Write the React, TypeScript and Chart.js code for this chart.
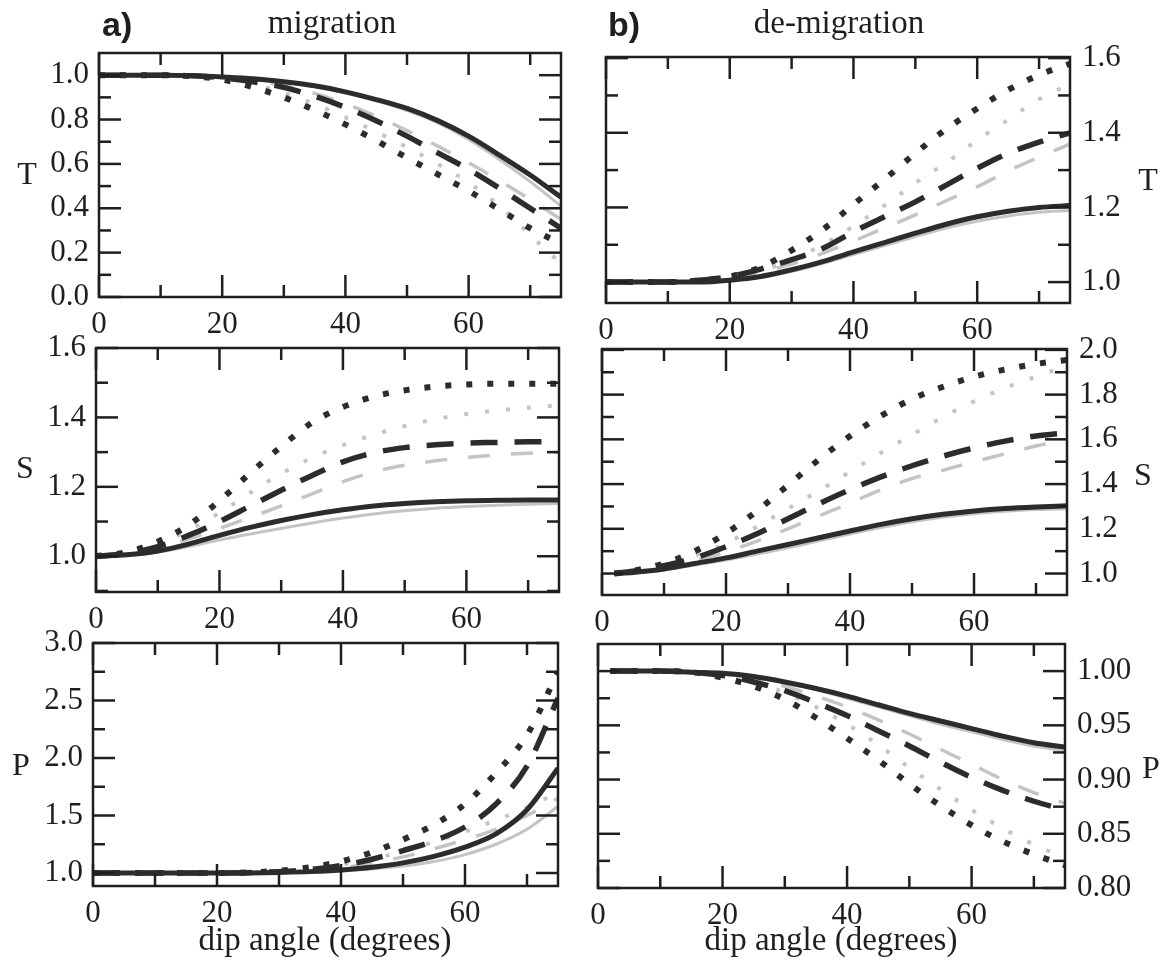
import React, { useEffect, useRef } from "react";
import { Chart, registerables } from "chart.js";

Chart.register(...registerables);

const PAGE_W = 1170;
const PAGE_H = 971;

// ---- dip angles (degrees) ----
const DIP_FULL = [0, 5, 10, 15, 20, 25, 30, 35, 40, 45, 50, 55, 60, 65, 70, 75];
const DIP_FROM2 = [2, 5, 10, 15, 20, 25, 30, 35, 40, 45, 50, 55, 60, 65, 70, 75];

// ---- x axis ticks (shared) ----
const X_MAJOR = [0, 20, 40, 60];
const X_LABELS = ["0", "20", "40", "60"];
const X_MINOR = [10, 30, 50, 70];

// ---- (a) migration, T ----
const migT_solid = [1.0, 1.0, 1.0, 0.998, 0.992, 0.984, 0.97, 0.952, 0.925, 0.89, 0.85, 0.795, 0.725, 0.64, 0.55, 0.45];
const migT_solidGray = [1.0, 1.0, 1.0, 0.998, 0.992, 0.983, 0.968, 0.948, 0.92, 0.884, 0.84, 0.785, 0.71, 0.62, 0.52, 0.41];
const migT_dash = [1.0, 1.0, 1.0, 0.997, 0.988, 0.97, 0.945, 0.905, 0.855, 0.795, 0.725, 0.65, 0.575, 0.49, 0.4, 0.31];
const migT_dashGray = [1.0, 1.0, 1.0, 0.997, 0.99, 0.975, 0.952, 0.918, 0.872, 0.815, 0.75, 0.68, 0.605, 0.525, 0.44, 0.35];
const migT_dot = [1.0, 1.0, 1.0, 0.995, 0.98, 0.946, 0.9, 0.843, 0.778, 0.705, 0.628, 0.553, 0.478, 0.395, 0.31, 0.24];
const migT_dotGray = [1.0, 1.0, 1.0, 0.996, 0.985, 0.96, 0.92, 0.87, 0.81, 0.745, 0.675, 0.6, 0.515, 0.41, 0.28, 0.15];
const migT_yMajor = [0.0, 0.2, 0.4, 0.6, 0.8, 1.0];
const migT_yLabels = ["0.0", "0.2", "0.4", "0.6", "0.8", "1.0"];
const migT_yMinor = [0.1, 0.3, 0.5, 0.7, 0.9];

// ---- (b) de-migration, T ----
const demT_solid = [1.0, 1.0, 1.0, 1.0, 1.005, 1.015, 1.033, 1.055, 1.081, 1.106, 1.131, 1.155, 1.175, 1.19, 1.2, 1.205];
const demT_solidGray = [1.0, 1.0, 1.0, 1.0, 1.004, 1.013, 1.029, 1.05, 1.074, 1.098, 1.122, 1.145, 1.163, 1.177, 1.187, 1.192];
const demT_dash = [1.0, 1.0, 1.0, 1.005, 1.015, 1.035, 1.06, 1.09, 1.135, 1.175, 1.215, 1.26, 1.305, 1.345, 1.375, 1.4];
const demT_dashGray = [1.0, 1.0, 1.0, 1.004, 1.012, 1.027, 1.048, 1.077, 1.11, 1.145, 1.18, 1.218, 1.255, 1.298, 1.335, 1.37];
const demT_dot = [1.0, 1.0, 1.0, 1.004, 1.015, 1.04, 1.085, 1.14, 1.208, 1.275, 1.345, 1.41, 1.465, 1.515, 1.555, 1.585];
const demT_dotGray = [1.0, 1.0, 1.0, 1.004, 1.012, 1.03, 1.06, 1.1, 1.15, 1.205, 1.265, 1.32, 1.38, 1.435, 1.49, 1.53];
const demT_yMajor = [1.0, 1.2, 1.4, 1.6];
const demT_yLabels = ["1.0", "1.2", "1.4", "1.6"];
const demT_yMinor = [1.1, 1.3, 1.5];

// ---- (a) migration, S ----
const migS_solid = [1.0, 1.004, 1.015, 1.035, 1.06, 1.083, 1.103, 1.12, 1.134, 1.145, 1.152, 1.157, 1.16, 1.161, 1.162, 1.162];
const migS_solidGray = [1.0, 1.003, 1.012, 1.028, 1.047, 1.064, 1.08, 1.096, 1.11, 1.122, 1.131, 1.138, 1.143, 1.147, 1.15, 1.152];
const migS_dash = [1.0, 1.008, 1.028, 1.06, 1.1, 1.145, 1.19, 1.233, 1.272, 1.298, 1.313, 1.321, 1.326, 1.328, 1.33, 1.33];
const migS_dashGray = [1.0, 1.007, 1.024, 1.05, 1.08, 1.112, 1.145, 1.18, 1.215, 1.243, 1.262, 1.275, 1.285, 1.292, 1.297, 1.3];
const migS_dot = [1.0, 1.012, 1.042, 1.09, 1.16, 1.24, 1.316, 1.385, 1.43, 1.46, 1.478, 1.489, 1.495, 1.497, 1.497, 1.497];
const migS_dotGray = [1.0, 1.01, 1.035, 1.075, 1.125, 1.183, 1.238, 1.284, 1.32, 1.35, 1.375, 1.395, 1.41, 1.42, 1.428, 1.435];
const migS_yMajor = [1.0, 1.2, 1.4, 1.6];
const migS_yLabels = ["1.0", "1.2", "1.4", "1.6"];
const migS_yMinor = [0.9, 1.1, 1.3, 1.5];

// ---- (b) de-migration, S ----
const demS_solid = [1.0, 1.005, 1.02, 1.045, 1.07, 1.1, 1.13, 1.16, 1.19, 1.22, 1.245, 1.265, 1.28, 1.291, 1.298, 1.303];
const demS_solidGray = [1.0, 1.004, 1.017, 1.038, 1.06, 1.087, 1.115, 1.146, 1.177, 1.206, 1.232, 1.252, 1.267, 1.278, 1.286, 1.29];
const demS_dash = [1.0, 1.01, 1.035, 1.07, 1.12, 1.178, 1.245, 1.312, 1.375, 1.432, 1.482, 1.525, 1.562, 1.592, 1.615, 1.63];
const demS_dashGray = [1.0, 1.008, 1.028, 1.058, 1.097, 1.145, 1.2, 1.258, 1.315, 1.375, 1.425, 1.462, 1.5, 1.535, 1.57, 1.6];
const demS_dot = [1.0, 1.012, 1.045, 1.1, 1.18, 1.28, 1.395, 1.51, 1.615, 1.705, 1.78, 1.835, 1.88, 1.912, 1.937, 1.955];
const demS_dotGray = [1.0, 1.01, 1.038, 1.08, 1.135, 1.21, 1.29, 1.37, 1.455, 1.54, 1.62, 1.7, 1.77, 1.83, 1.88, 1.93];
const demS_yMajor = [1.0, 1.2, 1.4, 1.6, 1.8, 2.0];
const demS_yLabels = ["1.0", "1.2", "1.4", "1.6", "1.8", "2.0"];
const demS_yMinor = [1.1, 1.3, 1.5, 1.7, 1.9];

// ---- (a) migration, P ----
const migP_solid = [1.0, 1.0, 1.0, 1.0, 1.0, 1.001, 1.005, 1.012, 1.027, 1.05, 1.088, 1.145, 1.225, 1.34, 1.55, 1.91];
const migP_solidGray = [1.0, 1.0, 1.0, 1.0, 1.0, 1.001, 1.003, 1.008, 1.018, 1.035, 1.06, 1.1, 1.16, 1.25, 1.38, 1.58];
const migP_dash = [1.0, 1.0, 1.0, 1.0, 1.0, 1.003, 1.012, 1.03, 1.065, 1.12, 1.195, 1.28, 1.4, 1.6, 1.93, 2.52];
const migP_dashGray = [1.0, 1.0, 1.0, 1.0, 1.0, 1.002, 1.006, 1.02, 1.045, 1.085, 1.14, 1.21, 1.29, 1.38, 1.5, 1.65];
const migP_dot = [1.0, 1.0, 1.0, 1.0, 1.0, 1.005, 1.02, 1.05, 1.1, 1.18, 1.29, 1.42, 1.6, 1.87, 2.2, 2.75];
const migP_dotGray = [1.0, 1.0, 1.0, 1.0, 1.0, 1.003, 1.012, 1.035, 1.07, 1.12, 1.19, 1.27, 1.36, 1.46, 1.57, 1.7];
const migP_yMajor = [1.0, 1.5, 2.0, 2.5, 3.0];
const migP_yLabels = ["1.0", "1.5", "2.0", "2.5", "3.0"];
const migP_yMinor = [1.25, 1.75, 2.25, 2.75];

// ---- (b) de-migration, P ----
const demP_solid = [1.0, 1.0, 1.0, 0.999, 0.998, 0.995, 0.99, 0.984, 0.977, 0.969, 0.961, 0.954, 0.947, 0.94, 0.934, 0.93];
const demP_solidGray = [1.0, 1.0, 1.0, 0.999, 0.997, 0.994, 0.989, 0.983, 0.975, 0.967, 0.959, 0.951, 0.944, 0.937, 0.931, 0.927];
const demP_dash = [1.0, 1.0, 1.0, 0.999, 0.996, 0.99, 0.982, 0.971, 0.959, 0.945, 0.931, 0.916, 0.902, 0.89, 0.88, 0.872];
const demP_dashGray = [1.0, 1.0, 1.0, 0.999, 0.997, 0.993, 0.986, 0.977, 0.967, 0.955, 0.942, 0.928, 0.914, 0.9, 0.888, 0.878];
const demP_dot = [1.0, 1.0, 1.0, 0.999, 0.994, 0.986, 0.974, 0.957, 0.938, 0.918, 0.896, 0.876, 0.858, 0.843, 0.831, 0.821];
const demP_dotGray = [1.0, 1.0, 1.0, 0.999, 0.996, 0.99, 0.98, 0.967, 0.951, 0.932, 0.911, 0.891, 0.872, 0.855, 0.84, 0.828];
const demP_yMajor = [0.8, 0.85, 0.9, 0.95, 1.0];
const demP_yLabels = ["0.80", "0.85", "0.90", "0.95", "1.00"];
const demP_yMinor = [0.825, 0.875, 0.925, 0.975];

// ---- styling ----
const INK = "#1f1f1f";
const LINE_DARK = "#2c2c2c";
const LINE_LIGHT = "#c4c4c4";
const SERIF = '"Liberation Serif", "Times New Roman", serif';
const SANS = '"Liberation Sans", Arial, sans-serif';
const MAJOR_LEN = 22;
const MINOR_LEN = 12;

type Box = { left: number; top: number; right: number; bottom: number };

interface PanelSpec {
  id: string;
  box: Box;
  side: "left" | "right";
  yMin: number;
  yMax: number;
  yMajor: number[];
  yLabels: string[];
  yMinor: number[];
  letter: string;
  letterGap: number;
  letterDy: number;
  dips: number[];
  solid: number[];
  solidGray: number[];
  dash: number[];
  dashGray: number[];
  dot: number[];
  dotGray: number[];
  heading?: { tag: string; tagX: number; title: string; titleX: number };
  xTitleX?: number;
}

const PANELS: PanelSpec[] = [
  {
    id: "migT",
    box: { left: 99, top: 53, right: 561, bottom: 297 },
    side: "left",
    yMin: 0, yMax: 1.1,
    yMajor: migT_yMajor, yLabels: migT_yLabels, yMinor: migT_yMinor,
    letter: "T", letterGap: 72, letterDy: 1,
    dips: DIP_FULL,
    solid: migT_solid, solidGray: migT_solidGray, dash: migT_dash, dashGray: migT_dashGray, dot: migT_dot, dotGray: migT_dotGray,
    heading: { tag: "a)", tagX: 102, title: "migration", titleX: 332 },
  },
  {
    id: "demT",
    box: { left: 606, top: 57, right: 1070, bottom: 303 },
    side: "right",
    yMin: 0.944, yMax: 1.603,
    yMajor: demT_yMajor, yLabels: demT_yLabels, yMinor: demT_yMinor,
    letter: "T", letterGap: 78, letterDy: 2,
    dips: DIP_FULL,
    solid: demT_solid, solidGray: demT_solidGray, dash: demT_dash, dashGray: demT_dashGray, dot: demT_dot, dotGray: demT_dotGray,
    heading: { tag: "b)", tagX: 608, title: "de-migration", titleX: 839 },
  },
  {
    id: "migS",
    box: { left: 96, top: 348, right: 559, bottom: 592 },
    side: "left",
    yMin: 0.897, yMax: 1.6,
    yMajor: migS_yMajor, yLabels: migS_yLabels, yMinor: migS_yMinor,
    letter: "S", letterGap: 71, letterDy: 0,
    dips: DIP_FULL,
    solid: migS_solid, solidGray: migS_solidGray, dash: migS_dash, dashGray: migS_dashGray, dot: migS_dot, dotGray: migS_dotGray,
  },
  {
    id: "demS",
    box: { left: 602, top: 349, right: 1067, bottom: 595 },
    side: "right",
    yMin: 0.904, yMax: 2.004,
    yMajor: demS_yMajor, yLabels: demS_yLabels, yMinor: demS_yMinor,
    letter: "S", letterGap: 76, letterDy: 5,
    dips: DIP_FROM2,
    solid: demS_solid, solidGray: demS_solidGray, dash: demS_dash, dashGray: demS_dashGray, dot: demS_dot, dotGray: demS_dotGray,
  },
  {
    id: "migP",
    box: { left: 93, top: 643, right: 558, bottom: 886 },
    side: "left",
    yMin: 0.887, yMax: 3.0,
    yMajor: migP_yMajor, yLabels: migP_yLabels, yMinor: migP_yMinor,
    letter: "P", letterGap: 72, letterDy: 2,
    dips: DIP_FULL,
    solid: migP_solid, solidGray: migP_solidGray, dash: migP_dash, dashGray: migP_dashGray, dot: migP_dot, dotGray: migP_dotGray,
    xTitleX: 325,
  },
  {
    id: "demP",
    box: { left: 598, top: 644, right: 1065, bottom: 888 },
    side: "right",
    yMin: 0.8, yMax: 1.025,
    yMajor: demP_yMajor, yLabels: demP_yLabels, yMinor: demP_yMinor,
    letter: "P", letterGap: 86, letterDy: 4,
    dips: DIP_FROM2,
    solid: demP_solid, solidGray: demP_solidGray, dash: demP_dash, dashGray: demP_dashGray, dot: demP_dot, dotGray: demP_dotGray,
    xTitleX: 831,
  },
];

function points(dips: number[], values: number[]) {
  return dips.map((d, i) => ({ x: d, y: values[i] }));
}

function framePlugin(p: PanelSpec) {
  return {
    id: "panelFrame",
    afterDraw(chart: any) {
      const { ctx, chartArea: a, scales } = chart;
      const xs = scales.x;
      const ys = scales.y;
      ctx.save();
      ctx.strokeStyle = INK;
      ctx.lineWidth = 2.5;
      ctx.lineCap = "butt";
      ctx.strokeRect(a.left, a.top, a.right - a.left, a.bottom - a.top);

      const seg = (x1: number, y1: number, x2: number, y2: number) => {
        ctx.beginPath();
        ctx.moveTo(x1, y1);
        ctx.lineTo(x2, y2);
        ctx.stroke();
      };

      // inward ticks along bottom and top
      const xTicks = (vals: number[], len: number) => {
        vals.forEach((v) => {
          const px = xs.getPixelForValue(v);
          seg(px, a.bottom, px, a.bottom - len);
          seg(px, a.top, px, a.top + len);
        });
      };
      xTicks(X_MAJOR, MAJOR_LEN);
      xTicks(X_MINOR, MINOR_LEN);

      // inward ticks along left and right
      const yTicks = (vals: number[], len: number) => {
        vals.forEach((v) => {
          const py = ys.getPixelForValue(v);
          seg(a.left, py, a.left + len, py);
          seg(a.right, py, a.right - len, py);
        });
      };
      yTicks(p.yMajor, MAJOR_LEN);
      yTicks(p.yMinor, MINOR_LEN);

      ctx.fillStyle = INK;
      ctx.font = `31px ${SERIF}`;

      // x tick labels
      ctx.textAlign = "center";
      ctx.textBaseline = "alphabetic";
      X_MAJOR.forEach((v, i) => {
        ctx.fillText(X_LABELS[i], xs.getPixelForValue(v), a.bottom + 36);
      });

      // y tick labels
      ctx.textBaseline = "middle";
      if (p.side === "left") {
        ctx.textAlign = "right";
        p.yMajor.forEach((v, i) => ctx.fillText(p.yLabels[i], a.left - 10, ys.getPixelForValue(v)));
      } else {
        ctx.textAlign = "left";
        p.yMajor.forEach((v, i) => ctx.fillText(p.yLabels[i], a.right + 12, ys.getPixelForValue(v)));
      }

      // axis letter (horizontal)
      ctx.font = `32px ${SERIF}`;
      ctx.textAlign = "center";
      const midY = (a.top + a.bottom) / 2 + p.letterDy;
      const lx = p.side === "left" ? a.left - p.letterGap : a.right + p.letterGap;
      ctx.fillText(p.letter, lx, midY);

      // column heading
      if (p.heading) {
        ctx.textBaseline = "alphabetic";
        ctx.font = `bold 34px ${SANS}`;
        ctx.textAlign = "left";
        ctx.fillText(p.heading.tag, p.heading.tagX, 36);
        ctx.font = `33px ${SERIF}`;
        ctx.textAlign = "center";
        ctx.fillText(p.heading.title, p.heading.titleX, 33);
      }

      // x axis title
      if (p.xTitleX !== undefined) {
        ctx.textBaseline = "alphabetic";
        ctx.font = `33px ${SERIF}`;
        ctx.textAlign = "center";
        ctx.fillText("dip angle (degrees)", p.xTitleX, 950);
      }
      ctx.restore();
    },
  };
}

function PanelChart({ spec }: { spec: PanelSpec }) {
  const ref = useRef<HTMLCanvasElement | null>(null);

  useEffect(() => {
    const canvas = ref.current;
    if (!canvas) return;
    const b = spec.box;
    const common = { pointRadius: 0, cubicInterpolationMode: "monotone" as const, fill: false, clip: 0 };
    const chart = new Chart(canvas, {
      type: "line",
      data: {
        datasets: [
          { ...common, data: points(spec.dips, spec.solid), borderColor: LINE_DARK, borderWidth: 5 },
          { ...common, data: points(spec.dips, spec.dash), borderColor: LINE_DARK, borderWidth: 5.5, borderDash: [27, 17] },
          { ...common, data: points(spec.dips, spec.dot), borderColor: LINE_DARK, borderWidth: 6, borderDash: [6, 15] },
          { ...common, data: points(spec.dips, spec.solidGray), borderColor: LINE_LIGHT, borderWidth: 3 },
          { ...common, data: points(spec.dips, spec.dashGray), borderColor: LINE_LIGHT, borderWidth: 3.5, borderDash: [22, 21] },
          { ...common, data: points(spec.dips, spec.dotGray), borderColor: LINE_LIGHT, borderWidth: 4, borderDash: [4, 17] },
        ],
      },
      options: {
        animation: false,
        responsive: false,
        maintainAspectRatio: false,
        events: [],
        layout: {
          padding: { left: b.left, top: b.top, right: PAGE_W - b.right, bottom: PAGE_H - b.bottom },
        },
        plugins: { legend: { display: false }, tooltip: { enabled: false }, title: { display: false } },
        scales: {
          x: { type: "linear", min: 0, max: 75, display: false },
          y: { type: "linear", min: spec.yMin, max: spec.yMax, display: false },
        },
      },
      plugins: [framePlugin(spec)],
    });
    return () => chart.destroy();
  }, [spec]);

  return (
    <canvas
      ref={ref}
      width={PAGE_W}
      height={PAGE_H}
      style={{ position: "absolute", left: 0, top: 0, width: PAGE_W, height: PAGE_H }}
    />
  );
}

export default function App() {
  return (
    <div style={{ position: "absolute", left: 0, top: 0, width: PAGE_W, height: PAGE_H, background: "#ffffff", overflow: "hidden" }}>
      {PANELS.map((p) => (
        <PanelChart key={p.id} spec={p} />
      ))}
    </div>
  );
}
